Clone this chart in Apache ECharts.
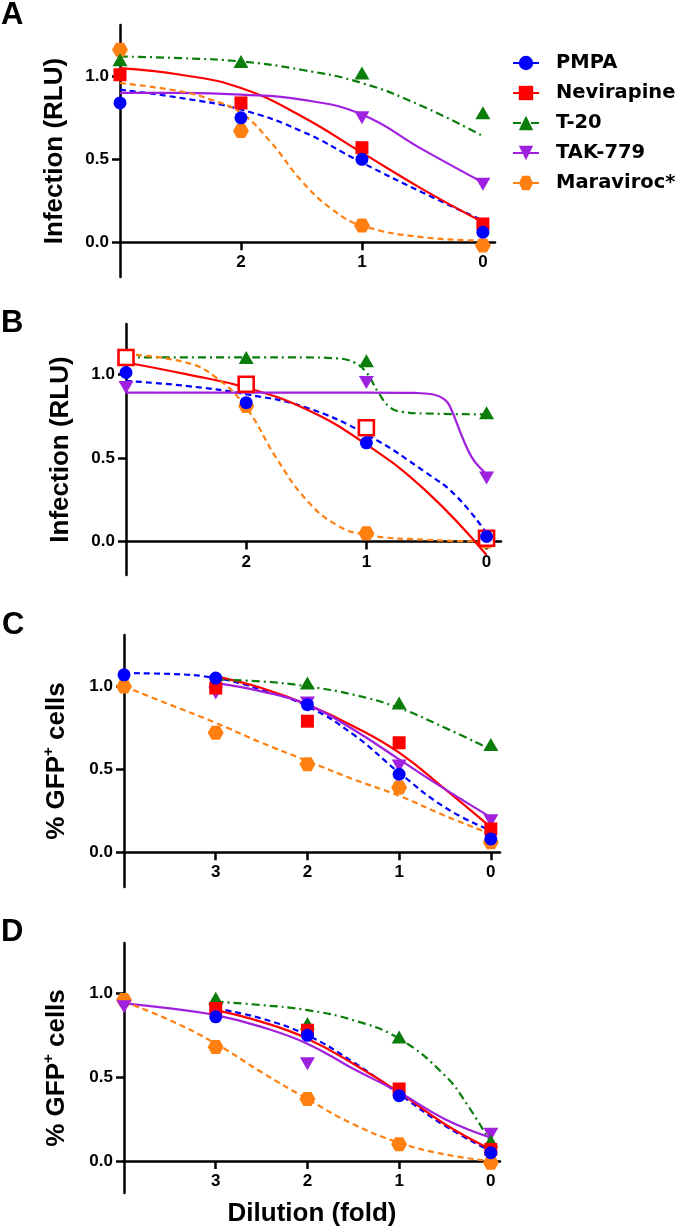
<!DOCTYPE html>
<html><head><meta charset="utf-8">
<script src="https://cdn.jsdelivr.net/npm/echarts@6/dist/echarts.min.js"></script>
<style>html,body{margin:0;padding:0;background:#fff}#c{width:680px;height:1230px}</style>
</head><body><div id="c"></div>
<script>
// ---------- data ----------
const DRUGS = ['PMPA', 'Nevirapine', 'T-20', 'TAK-779', 'Maraviroc*'];

// Panel A (x = dilution 3..0)
const A_x = [3, 2, 1, 0];
const A_PMPA = [0.84, 0.75, 0.50, 0.06];
const A_NEV  = [1.01, 0.84, 0.57, 0.11];
const A_T20  = [1.10, 1.09, 1.02, 0.78];
const A_TAK  = [null, null, 0.75, 0.35];
const A_MVC  = [1.16, 0.67, 0.10, -0.02];
const A_fitX = [3, 2.5, 2, 1.5, 1, 0.5, 0];
const A_PMPA_fit = [0.92, 0.87, 0.80, 0.67, 0.48, 0.30, 0.13];
const A_NEV_fit  = [1.05, 1.01, 0.93, 0.76, 0.54, 0.32, 0.12];
const A_T20_fit  = [1.12, 1.11, 1.09, 1.04, 0.96, 0.82, 0.64];
const A_TAK_fit  = [0.90, 0.90, 0.89, 0.86, 0.77, 0.56, 0.36];
const A_MVC_fitX = [3, 2.5, 2.25, 2, 1.75, 1.5, 1.25, 1, 0.5, 0];
const A_MVC_fit  = [0.96, 0.91, 0.86, 0.78, 0.60, 0.37, 0.20, 0.10, 0.03, 0.01];

// Panel B
const B_x = [3, 2, 1, 0];
const B_PMPA = [1.01, 0.83, 0.59, 0.03];
const B_NEV  = [1.10, 0.94, 0.68, 0.02];
const B_T20  = [null, 1.10, 1.08, 0.77];
const B_TAK  = [0.92, null, 0.95, 0.38];
const B_MVC  = [null, 0.81, 0.05, 0.00];
const B_PMPA_fitX = [3, 2.5, 2, 1.5, 1, 0.5, 0.25, 0];
const B_PMPA_fit  = [0.96, 0.93, 0.88, 0.80, 0.64, 0.41, 0.27, 0.05];
const B_NEV_fitX  = [3, 2.5, 2, 1.5, 1, 0.5, 0];
const B_NEV_fit   = [1.07, 1.00, 0.92, 0.79, 0.58, 0.30, -0.08];
const B_T20_fitX  = [3, 2, 1.5, 1.25, 1.1, 1.0, 0.9, 0.8, 0.7, 0.5, 0];
const B_T20_fit   = [1.10, 1.10, 1.10, 1.095, 1.07, 1.01, 0.89, 0.80, 0.775, 0.765, 0.76];
const B_TAK_fitX  = [3, 1, 0.6, 0.45, 0.35, 0.3, 0.2, 0.12, 0.04, 0];
const B_TAK_fit   = [0.89, 0.89, 0.888, 0.88, 0.85, 0.80, 0.62, 0.50, 0.43, 0.40];
const B_MVC_fitX  = [3, 2.5, 2.25, 2, 1.75, 1.5, 1.25, 1, 0.5, 0];
const B_MVC_fit   = [1.12, 1.07, 0.98, 0.80, 0.50, 0.25, 0.10, 0.04, 0.01, 0.00];

// Panel C (x = dilution 4..0)
const C_x = [4, 3, 2, 1, 0];
const C_PMPA = [1.07, 1.05, 0.89, 0.47, 0.08];
const C_NEV  = [null, 0.99, 0.79, 0.66, 0.14];
const C_T20  = [null, null, 1.02, 0.90, 0.65];
const C_TAK  = [null, 0.96, 0.90, 0.52, 0.19];
const C_MVC  = [1.00, 0.72, 0.53, 0.39, 0.06];
const C_PMPA_fitX = [4, 3.5, 3, 2.5, 2, 1.5, 1, 0.5, 0];
const C_PMPA_fit  = [1.08, 1.075, 1.05, 0.98, 0.88, 0.71, 0.48, 0.27, 0.13];
const C_fitX      = [3, 2.5, 2, 1.5, 1, 0.5, 0];
const C_NEV_fit   = [1.06, 0.99, 0.89, 0.76, 0.60, 0.38, 0.15];
const C_T20_fit   = [1.04, 1.03, 1.00, 0.95, 0.87, 0.75, 0.62];
const C_TAK_fit   = [1.02, 0.97, 0.89, 0.74, 0.56, 0.38, 0.21];
const C_MVC_fitX  = [4, 3.5, 3, 2.5, 2, 1.5, 1, 0.5, 0];
const C_MVC_fit   = [1.00, 0.89, 0.78, 0.66, 0.55, 0.44, 0.34, 0.22, 0.11];

// Panel D
const D_x = [4, 3, 2, 1, 0];
const D_PMPA = [null, 0.86, 0.75, 0.39, 0.05];
const D_NEV  = [null, 0.91, 0.78, 0.43, 0.07];
const D_T20  = [null, 0.97, 0.82, 0.74, 0.12];
const D_TAK  = [0.92, null, 0.58, null, 0.16];
const D_MVC  = [0.96, 0.68, 0.37, 0.10, -0.01];
const D_fitX      = [3, 2.5, 2, 1.5, 1, 0.5, 0];
const D_PMPA_fit  = [0.91, 0.85, 0.75, 0.59, 0.40, 0.21, 0.06];
const D_NEV_fit   = [0.90, 0.83, 0.73, 0.58, 0.41, 0.22, 0.07];
const D_T20_fitX  = [3, 2.5, 2, 1.5, 1, 0.5, 0.25, 0];
const D_T20_fit   = [0.95, 0.93, 0.90, 0.84, 0.73, 0.51, 0.33, 0.11];
const D_TAK_fitX  = [4, 3.5, 3, 2.5, 2, 1.5, 1, 0.5, 0];
const D_TAK_fit   = [0.94, 0.91, 0.87, 0.80, 0.70, 0.55, 0.41, 0.25, 0.14];
const D_MVC_fitX  = [4, 3.5, 3, 2.5, 2, 1.5, 1, 0.5, 0];
const D_MVC_fit   = [0.95, 0.84, 0.70, 0.53, 0.37, 0.22, 0.11, 0.04, 0.00];

const Y_TICKS = [0, 0.5, 1.0];
const X_TICKS_AB = [2, 1, 0];
const X_TICKS_CD = [3, 2, 1, 0];

// ---------- styles ----------
const FONT = "'Liberation Sans', Arial, sans-serif";
const HEX = 'path://M0,433 L250,0 L750,0 L1000,433 L750,866 L250,866 Z';
const TRI_UP = 'path://M500,0 L1000,866 L0,866 Z';
const TRI_DN = 'path://M0,0 L1000,0 L500,866 Z';
const ST = {
  'PMPA':        { color: '#0000ff', symbol: 'circle', size: 13, dash: [6, 4] },
  'Nevirapine':  { color: '#ff0000', symbol: 'rect', size: 13, dash: 'solid' },
  'T-20':        { color: '#0a7d0a', symbol: TRI_UP, size: [15, 13], dash: [8, 4, 2, 4] },
  'TAK-779':     { color: '#a020e0', symbol: TRI_DN, size: [15, 13], dash: 'solid' },
  'Maraviroc*':  { color: '#ff8010', symbol: HEX, size: [16, 14], dash: [6, 4] }
};
const ZORD = { 'Maraviroc*': 3, 'TAK-779': 4, 'T-20': 5, 'Nevirapine': 6, 'PMPA': 7 };

function zip(xs, ys) {
  const out = [];
  xs.forEach((x, i) => { if (ys[i] !== null && ys[i] !== undefined) out.push([x, ys[i]]); });
  return out;
}
function curve(p, drug, xs, ys) {
  const s = ST[drug];
  return {
    type: 'line', name: drug, xAxisIndex: p, yAxisIndex: p, data: zip(xs, ys),
    smooth: 0.45, showSymbol: false, symbol: s.symbol, symbolSize: s.size,
    lineStyle: { color: s.color, width: 2.2, type: s.dash }, itemStyle: { color: s.color },
    z: 2, silent: true, animation: false
  };
}
function points(p, drug, xs, ys, open) {
  const s = ST[drug];
  const o = {
    type: 'scatter', name: drug, xAxisIndex: p, yAxisIndex: p, data: zip(xs, ys),
    symbol: s.symbol, symbolSize: s.size, itemStyle: { color: s.color, opacity: 1 },
    z: ZORD[drug], silent: true, animation: false
  };
  if (open) { o.symbol = 'rect'; o.symbolSize = 15; o.itemStyle = { color: '#fff', borderColor: s.color, borderWidth: 2.6, opacity: 1 }; }
  return o;
}

const grids = [
  { left: 120, top: 25,  width: 375, height: 252 },
  { left: 126, top: 324, width: 375, height: 251 },
  { left: 124, top: 635, width: 376, height: 252 },
  { left: 124, top: 943, width: 376, height: 250 }
];
const xRanges = [[-0.1, 3], [-0.12, 3], [-0.1, 4], [-0.1, 4]];
const yRanges = [[-0.21, 1.31], [-0.2, 1.3], [-0.21, 1.31], [-0.19, 1.30]];
const yNames = ['Infection (RLU)', 'Infection (RLU)', '% GFP{sup|+} cells', '% GFP{sup|+} cells'];

const lineSt = { color: '#000', width: 2.5 };
const tickLbl = { fontFamily: FONT, fontWeight: 'bold', fontSize: 17, color: '#000' };

// the x axis sits on y = 0: shift it up from the grid bottom by the pixel height of (0 - yMin)
const xAxes = grids.map((g, i) => ({
  type: 'value', gridIndex: i, min: xRanges[i][0], max: xRanges[i][1], inverse: true,
  position: 'bottom',
  offset: -g.height * (0 - yRanges[i][0]) / (yRanges[i][1] - yRanges[i][0]),
  axisLine: { show: true, onZero: false, lineStyle: lineSt },
  axisTick: { show: true, length: 8, lineStyle: lineSt, customValues: i < 2 ? X_TICKS_AB : X_TICKS_CD },
  axisLabel: Object.assign({ margin: 12, customValues: i < 2 ? X_TICKS_AB : X_TICKS_CD }, tickLbl),
  splitLine: { show: false },
  name: i === 3 ? 'Dilution (fold)' : '', nameLocation: 'middle', nameGap: 40,
  nameTextStyle: { fontFamily: FONT, fontWeight: 'bold', fontSize: 26, color: '#000' }
}));
const yAxes = grids.map((g, i) => ({
  type: 'value', gridIndex: i, min: yRanges[i][0], max: yRanges[i][1], position: 'left',
  axisLine: { show: true, onZero: false, lineStyle: lineSt },
  axisTick: { show: true, length: 8, lineStyle: lineSt, customValues: Y_TICKS },
  axisLabel: Object.assign({ margin: 11, customValues: Y_TICKS, formatter: v => v.toFixed(1) }, tickLbl),
  splitLine: { show: false },
  name: yNames[i], nameLocation: 'middle', nameGap: 52, nameRotate: 90,
  nameTextStyle: {
    fontFamily: FONT, fontWeight: 'bold', fontSize: 26, color: '#000',
    rich: { sup: { fontFamily: FONT, fontWeight: 'bold', fontSize: 15, color: '#000', verticalAlign: 'bottom', padding: [0, 0, 16, 0] } }
  }
}));

const series = [];
// Panel A (curves first so the legend picks line + marker icons)
series.push(curve(0, 'PMPA', A_fitX, A_PMPA_fit));
series.push(curve(0, 'Nevirapine', A_fitX, A_NEV_fit));
series.push(curve(0, 'T-20', A_fitX, A_T20_fit));
series.push(curve(0, 'TAK-779', A_fitX, A_TAK_fit));
series.push(curve(0, 'Maraviroc*', A_MVC_fitX, A_MVC_fit));
series.push(points(0, 'Maraviroc*', A_x, A_MVC));
series.push(points(0, 'TAK-779', A_x, A_TAK));
series.push(points(0, 'T-20', A_x, A_T20));
series.push(points(0, 'Nevirapine', A_x, A_NEV));
series.push(points(0, 'PMPA', A_x, A_PMPA));
// Panel B
series.push(curve(1, 'PMPA', B_PMPA_fitX, B_PMPA_fit));
series.push(curve(1, 'Nevirapine', B_NEV_fitX, B_NEV_fit));
series.push(curve(1, 'T-20', B_T20_fitX, B_T20_fit));
series.push(curve(1, 'TAK-779', B_TAK_fitX, B_TAK_fit));
series.push(curve(1, 'Maraviroc*', B_MVC_fitX, B_MVC_fit));
series.push(points(1, 'Maraviroc*', B_x, B_MVC));
series.push(points(1, 'TAK-779', B_x, B_TAK));
series.push(points(1, 'T-20', B_x, B_T20));
series.push(points(1, 'Nevirapine', B_x, B_NEV, true));
series.push(points(1, 'PMPA', B_x, B_PMPA));
// Panel C
series.push(curve(2, 'PMPA', C_PMPA_fitX, C_PMPA_fit));
series.push(curve(2, 'Nevirapine', C_fitX, C_NEV_fit));
series.push(curve(2, 'T-20', C_fitX, C_T20_fit));
series.push(curve(2, 'TAK-779', C_fitX, C_TAK_fit));
series.push(curve(2, 'Maraviroc*', C_MVC_fitX, C_MVC_fit));
series.push(points(2, 'Maraviroc*', C_x, C_MVC));
series.push(points(2, 'TAK-779', C_x, C_TAK));
series.push(points(2, 'T-20', C_x, C_T20));
series.push(points(2, 'Nevirapine', C_x, C_NEV));
series.push(points(2, 'PMPA', C_x, C_PMPA));
// Panel D
series.push(curve(3, 'PMPA', D_fitX, D_PMPA_fit));
series.push(curve(3, 'Nevirapine', D_fitX, D_NEV_fit));
series.push(curve(3, 'T-20', D_T20_fitX, D_T20_fit));
series.push(curve(3, 'TAK-779', D_TAK_fitX, D_TAK_fit));
series.push(curve(3, 'Maraviroc*', D_MVC_fitX, D_MVC_fit));
series.push(points(3, 'Maraviroc*', D_x, D_MVC));
series.push(points(3, 'TAK-779', D_x, D_TAK));
series.push(points(3, 'T-20', D_x, D_T20));
series.push(points(3, 'Nevirapine', D_x, D_NEV));
series.push(points(3, 'PMPA', D_x, D_PMPA));

const letterStyle = { fontFamily: FONT, fontWeight: 'bold', fontSize: 31, color: '#000' };
const option = {
  animation: false,
  backgroundColor: '#fff',
  title: [
    { text: 'A', left: 1, top: 0, padding: 0, textStyle: letterStyle },
    { text: 'B', left: 1, top: 308, padding: 0, textStyle: letterStyle },
    { text: 'C', left: 2, top: 610, padding: 0, textStyle: letterStyle },
    { text: 'D', left: 1, top: 917, padding: 0, textStyle: letterStyle }
  ],
  legend: {
    data: DRUGS, orient: 'vertical', left: 512, top: 53, padding: 0,
    itemWidth: 26, itemHeight: 18, itemGap: 10, selectedMode: false,
    textStyle: { fontFamily: "'DejaVu Sans', sans-serif", fontWeight: 'bold', fontSize: 19.5, color: '#000', padding: [0, 0, 0, 12] }
  },
  grid: grids,
  xAxis: xAxes,
  yAxis: yAxes,
  series: series
};
const chart = echarts.init(document.getElementById('c'), null, { renderer: 'canvas' });
chart.setOption(option);
</script>
</body></html>
